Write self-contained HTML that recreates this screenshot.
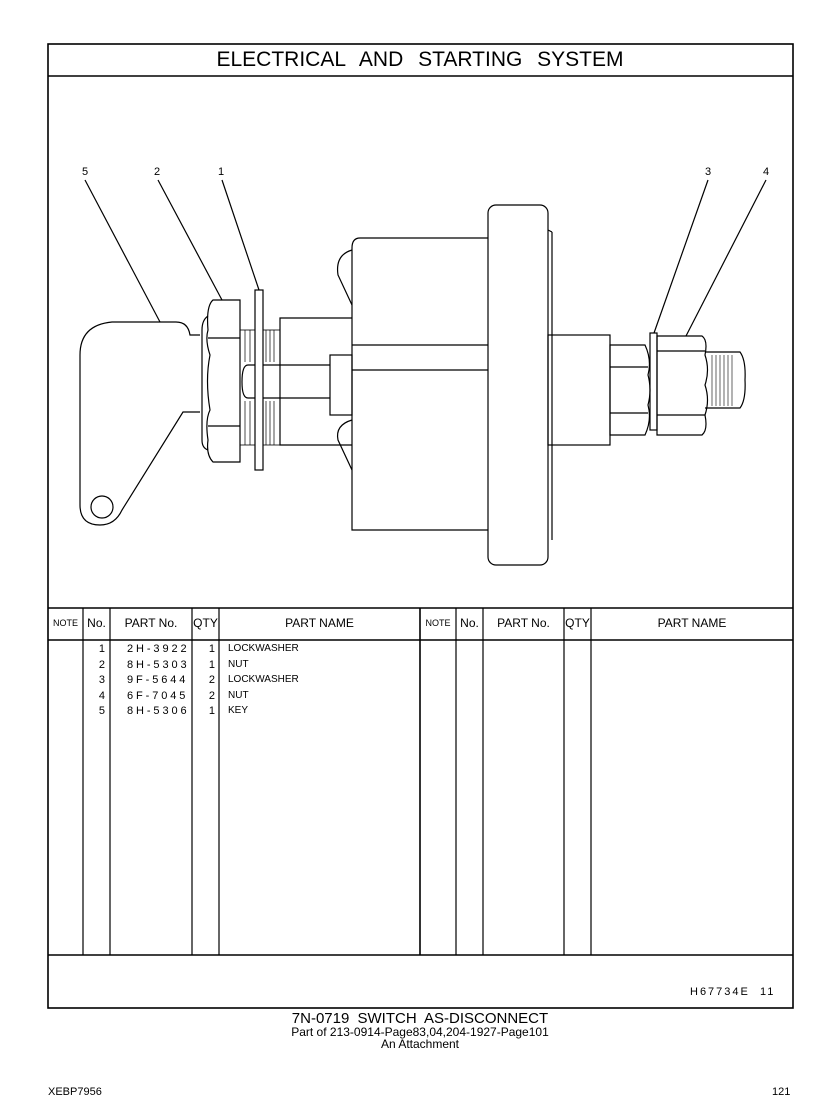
<!DOCTYPE html>
<html><head><style>
body{margin:0;background:#fff;width:840px;height:1119px;position:relative;font-family:"Liberation Sans",sans-serif;color:#000;overflow:hidden}
.t{position:absolute;white-space:nowrap}
</style></head><body>
<svg width="840" height="1119" style="position:absolute;left:0;top:0" fill="none" stroke="#000" stroke-width="1.3">
<rect x="48" y="44" width="745" height="964" stroke-width="1.6"/>
<line x1="48" y1="76" x2="793" y2="76" stroke-width="1.6"/>
<line x1="48" y1="608" x2="793" y2="608" stroke-width="1.6"/>
<line x1="48" y1="640" x2="793" y2="640" stroke-width="1.6"/>
<line x1="48" y1="955" x2="793" y2="955" stroke-width="1.6"/>
<g stroke-width="1.2">
<line x1="83" y1="608" x2="83" y2="955"/><line x1="110" y1="608" x2="110" y2="955"/>
<line x1="192" y1="608" x2="192" y2="955"/><line x1="219" y1="608" x2="219" y2="955"/>
<line x1="420" y1="608" x2="420" y2="955" stroke-width="1.6"/>
<line x1="456" y1="608" x2="456" y2="955"/><line x1="483" y1="608" x2="483" y2="955"/>
<line x1="564" y1="608" x2="564" y2="955"/><line x1="591" y1="608" x2="591" y2="955"/>
</g>
<g stroke-width="1.2">
<line x1="85" y1="180" x2="160" y2="322"/>
<line x1="158" y1="180" x2="222" y2="300"/>
<line x1="222" y1="180" x2="259" y2="290"/>
<line x1="708" y1="180" x2="654" y2="333"/>
<line x1="766" y1="180" x2="686" y2="336"/>
<rect x="488" y="205" width="60" height="360" rx="8"/>
<line x1="548" y1="230" x2="552" y2="232"/><line x1="552" y1="232" x2="552" y2="540"/>
<path d="M488 238 H360 Q352 238 352 248 V530 Q352 530 360 530 H488"/>
<path d="M352 250 Q335 255 338 275 L352 305"/>
<path d="M352 420 Q335 425 338 440 L352 470"/>
<line x1="352" y1="345" x2="488" y2="345"/>
<line x1="352" y1="370" x2="488" y2="370"/>
<path d="M352 318 H280 V445 H352"/>
<rect x="330" y="355" width="22" height="60"/>
<path d="M330 365 H248 Q242 365 242 382 Q242 398 248 398 H330"/>
<rect x="240" y="330" width="40" height="115" stroke-width="0.8"/>
<g stroke-width="0.7">
<line x1="245" y1="330" x2="245" y2="362"/><line x1="250" y1="330" x2="250" y2="362"/><line x1="266" y1="330" x2="266" y2="362"/><line x1="270" y1="330" x2="270" y2="362"/><line x1="274" y1="330" x2="274" y2="362"/>
<line x1="245" y1="401" x2="245" y2="445"/><line x1="250" y1="401" x2="250" y2="445"/><line x1="266" y1="401" x2="266" y2="445"/><line x1="270" y1="401" x2="270" y2="445"/><line x1="274" y1="401" x2="274" y2="445"/>
</g>
<rect x="255" y="290" width="8" height="180" fill="#fff"/>
<path d="M213 300 H240 V462 H213 Q206 455 208 440 Q205 420 210 410 Q205 380 210 355 Q205 340 208 330 Q206 306 213 300Z" fill="#fff"/>
<line x1="208" y1="338" x2="240" y2="338"/><line x1="208" y1="426" x2="240" y2="426"/>
<path d="M208 316 Q202 320 202 330 V440 Q202 448 208 450"/>
<path d="M200 335 H190 Q188 322 176 322 H112 Q80 325 80 355 V505 Q80 525 100 525 Q115 525 122 510 L183 412 H200" fill="#fff"/>
<circle cx="102" cy="507" r="11"/>
<rect x="548" y="335" width="62" height="110"/>
<path d="M610 345 H645 Q652 360 648 375 Q652 390 648 405 Q652 420 645 435 H610Z"/>
<line x1="610" y1="367" x2="648" y2="367"/><line x1="610" y1="413" x2="648" y2="413"/>
<rect x="650" y="333" width="7" height="97"/>
<path d="M657 336 H702 Q708 340 705 355 Q710 370 705 385 Q710 400 705 415 Q708 430 702 435 H657Z"/>
<line x1="657" y1="351" x2="705" y2="351"/><line x1="657" y1="415" x2="705" y2="415"/>
<path d="M705 352 H740 Q746 360 745 380 Q746 400 740 408 H705"/>
<g stroke-width="0.6">
<line x1="712" y1="355" x2="712" y2="406"/><line x1="716" y1="355" x2="716" y2="406"/><line x1="720" y1="355" x2="720" y2="406"/><line x1="724" y1="355" x2="724" y2="406"/><line x1="728" y1="355" x2="728" y2="406"/><line x1="732" y1="355" x2="732" y2="406"/>
</g>
</g>
</svg>
<div class="t" style="left:0;width:840px;text-align:center;top:48px;font-size:21px;word-spacing:9px">ELECTRICAL AND STARTING SYSTEM</div>
<div class="t" style="left:82px;top:166px;font-size:11px">5</div>
<div class="t" style="left:154px;top:166px;font-size:11px">2</div>
<div class="t" style="left:218px;top:166px;font-size:11px">1</div>
<div class="t" style="left:705px;top:166px;font-size:11px">3</div>
<div class="t" style="left:763px;top:166px;font-size:11px">4</div>
<div class="t" style="left:48px;width:35px;text-align:center;top:618px;font-size:9px">NOTE</div>
<div class="t" style="left:83px;width:27px;text-align:center;top:616px;font-size:12px">No.</div>
<div class="t" style="left:110px;width:82px;text-align:center;top:616px;font-size:12px">PART No.</div>
<div class="t" style="left:192px;width:27px;text-align:center;top:616px;font-size:12px">QTY</div>
<div class="t" style="left:219px;width:201px;text-align:center;top:616px;font-size:12px">PART NAME</div>
<div class="t" style="left:420px;width:36px;text-align:center;top:618px;font-size:9px">NOTE</div>
<div class="t" style="left:456px;width:27px;text-align:center;top:616px;font-size:12px">No.</div>
<div class="t" style="left:483px;width:81px;text-align:center;top:616px;font-size:12px">PART No.</div>
<div class="t" style="left:564px;width:27px;text-align:center;top:616px;font-size:12px">QTY</div>
<div class="t" style="left:591px;width:202px;text-align:center;top:616px;font-size:12px">PART NAME</div>
<div class="t" style="left:83px;width:22px;text-align:right;top:642px;font-size:11px;line-height:15.5px">1<br>2<br>3<br>4<br>5</div>
<div class="t" style="left:127px;top:642px;font-size:11px;line-height:15.5px;letter-spacing:2.9px">2H-3922<br>8H-5303<br>9F-5644<br>6F-7045<br>8H-5306</div>
<div class="t" style="left:192px;width:23px;text-align:right;top:642px;font-size:11px;line-height:15.5px">1<br>1<br>2<br>2<br>1</div>
<div class="t" style="left:228px;top:641px;font-size:10px;line-height:15.5px">LOCKWASHER<br>NUT<br>LOCKWASHER<br>NUT<br>KEY</div>
<div class="t" style="left:690px;top:986px;font-size:11px;letter-spacing:2px">H67734E &nbsp;11</div>
<div class="t" style="left:0;width:840px;text-align:center;top:1010px;font-size:15px;word-spacing:4px">7N-0719 SWITCH AS-DISCONNECT</div>
<div class="t" style="left:0;width:840px;text-align:center;top:1026px;font-size:12px;line-height:12px">Part of 213-0914-Page83,04,204-1927-Page101<br>An Attachment</div>
<div class="t" style="left:48px;top:1086px;font-size:11px">XEBP7956</div>
<div class="t" style="left:772px;top:1086px;font-size:11px">121</div>
</body></html>
